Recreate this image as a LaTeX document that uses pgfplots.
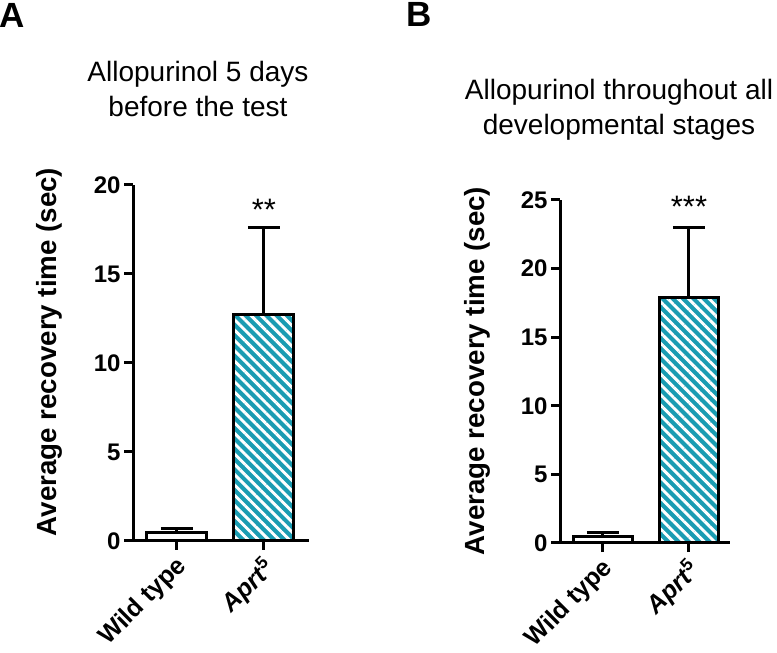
\documentclass[border=0pt]{standalone}
\usepackage{fontspec}
\setmainfont{Liberation Sans}
\usepackage{pgfplots}
\pgfplotsset{compat=1.18}
\usetikzlibrary{patterns.meta}
\definecolor{barteal}{RGB}{26,156,178}
\pgfplotsset{
  panel/.style={
    scale only axis, clip=false,
    axis x line=bottom, axis y line=left,
    axis line style={-, line width=3pt, black},
    ymin=0,
    tick align=outside, major tick length=9pt,
    major tick style={line width=3pt, black},
    xtick={0,1},
    xticklabels={\textbf{Wild type}, \textbf{\textit{Aprt}\textsuperscript{5}}},
    xticklabel style={rotate=45, anchor=north east, font=\fontsize{25}{25}\selectfont, inner sep=0pt, xshift=-5pt, yshift=-1pt},
    yticklabel style={font=\bfseries\fontsize{24}{24}\selectfont},
    /pgf/number format/assume math mode=true,
  },
  wtbar/.style={ybar, bar width=0.69, bar shift=0pt, fill=white, draw=black, line width=3pt},
  apbar/.style={ybar, bar width=0.69, bar shift=0pt, preaction={fill=barteal},
    pattern={Lines[angle=-45,distance=7.3pt,line width=2.9pt]}, pattern color=white,
    draw=black, line width=3pt},
  errs/.style={draw=none, error bars/.cd, y dir=plus, y explicit,
    error bar style={draw=black, line width=3pt},
    error mark options={draw=black, line width=3pt, mark size=16pt, rotate=90}},
}
\begin{document}
\begin{tikzpicture}
\useasboundingbox (0,0) rectangle (777pt,653pt);
% Panel A
\node[anchor=base west, font=\bfseries\fontsize{35}{35}\selectfont, inner sep=0pt] at (-1pt,625pt) {A};
\node[font=\fontsize{28}{34}\selectfont, anchor=base] at (198pt,571pt) {Allopurinol 5 days};
\node[font=\fontsize{28}{34}\selectfont, anchor=base] at (198pt,536pt) {before the test};
\node[rotate=90, anchor=base, font=\bfseries\fontsize{27.7}{30}\selectfont, inner sep=0pt] at (57pt,301pt) {Average recovery time (sec)};
\begin{axis}[panel, at={(133pt,112pt)}, anchor=south west,
  width=176pt, height=356pt, xmin=-0.506, xmax=1.52, ymax=20, ytick={0,5,10,15,20}]
\addplot[wtbar] coordinates {(0,0.5)};
\addplot[apbar] coordinates {(1,12.75)};
\addplot[errs] coordinates {(0,0.5) +- (0,0.22) (1,12.75) +- (0,4.85)};
\node[font=\fontsize{31}{31}\selectfont, anchor=base] at (axis cs:1,18.0) {**};
\end{axis}
% Panel B
\node[anchor=base west, font=\bfseries\fontsize{35}{35}\selectfont, inner sep=0pt] at (406pt,626pt) {B};
\node[font=\fontsize{28}{34}\selectfont, anchor=base] at (619pt,553pt) {Allopurinol throughout all};
\node[font=\fontsize{28}{34}\selectfont, anchor=base] at (619pt,518pt) {developmental stages};
\node[rotate=90, anchor=base, font=\bfseries\fontsize{27.7}{30}\selectfont, inner sep=0pt] at (484pt,282pt) {Average recovery time (sec)};
\begin{axis}[panel, at={(560pt,110pt)}, anchor=south west,
  width=170pt, height=343pt, xmin=-0.5, xmax=1.477, ymax=25, ytick={0,5,10,15,20,25}]
\addplot[wtbar] coordinates {(0,0.45)};
\addplot[apbar] coordinates {(1,17.9)};
\addplot[errs] coordinates {(0,0.45) +- (0,0.28) (1,17.9) +- (0,5.1)};
\node[font=\fontsize{31}{31}\selectfont, anchor=base] at (axis cs:1,23.75) {***};
\end{axis}
\end{tikzpicture}
\end{document}
